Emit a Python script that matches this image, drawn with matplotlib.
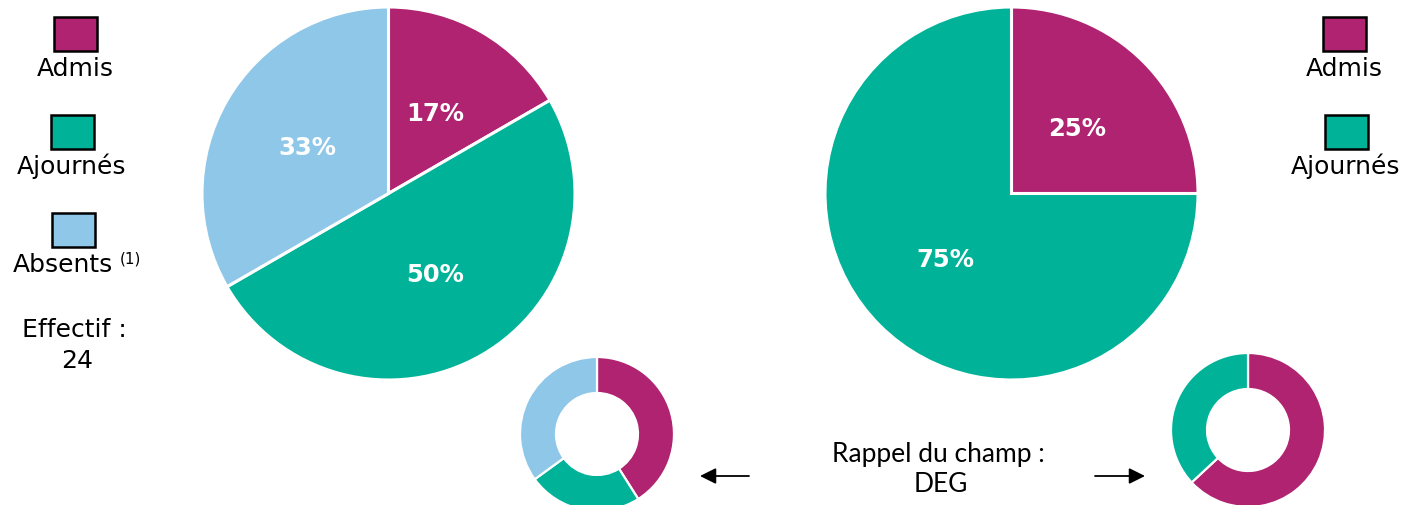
import matplotlib
matplotlib.use('Agg')
import matplotlib.pyplot as plt
from matplotlib.patches import Rectangle

W, H = 1408, 506

# Main pies: counts (effectif 24)
left_labels = ['Admis', 'Ajournés', 'Absents']
left_values = [4, 12, 8]
right_labels = ['Admis', 'Ajournés']
right_values = [4, 12]

# Reminder of the field (DEG), in %
field_left = [41, 24, 35]
field_right = [41, 24]

effectif = 24

colors = {'Admis': '#AF2370', 'Ajournés': '#00B398', 'Absents': '#8FC7E8'}

fig = plt.figure(figsize=(W / 100, H / 100), dpi=100)
ax = fig.add_axes([0, 0, 1, 1])


def fy(y):
    # image pixel row -> data y
    return H - y


def big_pie(values, labels, cx, cy):
    ax.pie(values, colors=[colors[l] for l in labels], startangle=90,
           counterclock=False, center=(cx, fy(cy)), radius=186.5,
           autopct=lambda p: f'{p:.0f}%', pctdistance=0.5,
           wedgeprops=dict(edgecolor='white', linewidth=2.2),
           textprops=dict(color='white', fontsize=17.5, fontweight='bold'))


def donut(values, labels, cx, cy):
    ax.pie(values, colors=[colors[l] for l in labels], startangle=90,
           counterclock=False, center=(cx, fy(cy)), radius=77,
           wedgeprops=dict(width=36, edgecolor='white', linewidth=1.6))


big_pie(left_values, left_labels, 388.5, 194.5)
big_pie(right_values, right_labels, 1011.5, 194.5)
donut(field_left, left_labels, 597, 435)
donut(field_right, right_labels, 1248, 431)


def legend_item(label, x, y_box, y_text):
    ax.add_patch(Rectangle((x - 21.5, fy(y_box + 17)), 43, 34,
                           facecolor=colors[label], edgecolor='black',
                           linewidth=1.8))
    ax.text(x, fy(y_text), label, ha='center', va='center', fontsize=18)


# left legend
legend_item('Admis', 75, 35, 69)
legend_item('Ajournés', 72, 133, 166)
ax.add_patch(Rectangle((52, fy(248)), 43, 34, facecolor=colors['Absents'],
                       edgecolor='black', linewidth=1.8))
ax.text(63, fy(265), 'Absents', ha='center', va='center', fontsize=18)
ax.text(120, fy(259), '(1)', ha='left', va='center', fontsize=11)
ax.text(74, fy(330), 'Effectif :', ha='center', va='center', fontsize=18)
ax.text(77, fy(361), str(effectif), ha='center', va='center', fontsize=18)

# right legend
legend_item('Admis', 1344, 35, 69)
legend_item('Ajournés', 1346, 133, 166)

# reminder text + arrows
ax.text(938, fy(455), 'Rappel du champ :', ha='center', va='center',
        fontsize=19, family='Lato')
ax.text(941, fy(485), 'DEG', ha='center', va='center',
        fontsize=19, family='Lato')
ax.annotate('', xy=(700, fy(477)), xytext=(749, fy(477)),
            arrowprops=dict(arrowstyle='-|>', color='black', lw=1.3,
                            mutation_scale=24, shrinkA=0, shrinkB=0))
ax.annotate('', xy=(1145, fy(477)), xytext=(1095, fy(477)),
            arrowprops=dict(arrowstyle='-|>', color='black', lw=1.3,
                            mutation_scale=24, shrinkA=0, shrinkB=0))

ax.set_xlim(0, W)
ax.set_ylim(0, H)
ax.set_aspect('auto')
ax.axis('off')

plt.savefig('out.png', dpi=100)
